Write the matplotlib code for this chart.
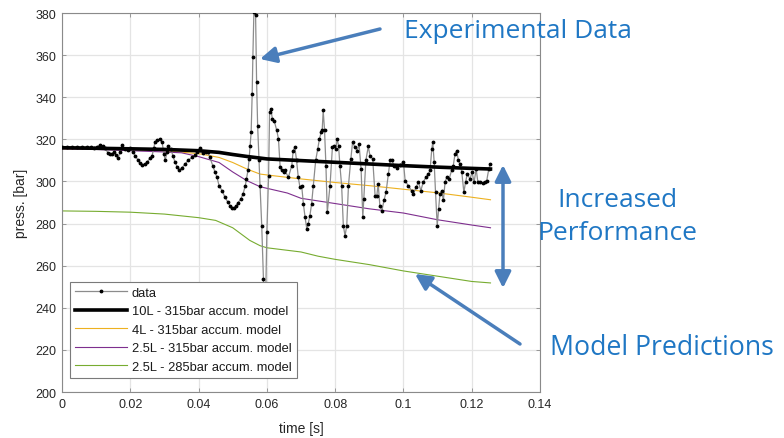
import matplotlib.pyplot as plt

# measured accumulator pressure (time in s, pressure in bar)
t_data = [0.0, 0.0015, 0.0029, 0.0044, 0.0059, 0.0073, 0.0085, 0.0094, 0.0103, 0.0111,
          0.0120, 0.0126, 0.0135, 0.0141, 0.0146, 0.0152, 0.0158, 0.0164, 0.0170, 0.0176,
          0.0185, 0.0193, 0.0199, 0.0208, 0.0214, 0.0223, 0.0228, 0.0234, 0.0243, 0.0249,
          0.0258, 0.0264, 0.0269, 0.0272, 0.0278, 0.0287, 0.0293, 0.0299, 0.0302, 0.0308,
          0.0310, 0.0319, 0.0325, 0.0331, 0.0337, 0.0343, 0.0351, 0.0360, 0.0369, 0.0381,
          0.0390, 0.0395, 0.0404, 0.0413, 0.0422, 0.0428, 0.0433, 0.0442, 0.0448, 0.0454,
          0.0460, 0.0469, 0.0477, 0.0486, 0.0492, 0.0498, 0.0504, 0.0510, 0.0515, 0.0524,
          0.0530, 0.0537, 0.0540, 0.0545, 0.0548, 0.0551, 0.0554, 0.0557, 0.0559, 0.0562,
          0.0567, 0.0570, 0.0573, 0.0577, 0.0580, 0.0585, 0.0590, 0.0593, 0.0596, 0.0600,
          0.0605, 0.0608, 0.0612, 0.0616, 0.0622, 0.0629, 0.0634, 0.0639, 0.0643, 0.0650,
          0.0653, 0.0663, 0.0673, 0.0677, 0.0682, 0.0687, 0.0692, 0.0697, 0.0702, 0.0707,
          0.0712, 0.0717, 0.0721, 0.0726, 0.0731, 0.0736, 0.0743, 0.0749, 0.0754, 0.0759,
          0.0762, 0.0765, 0.0769, 0.0773, 0.0777, 0.0785, 0.0792, 0.0797, 0.0802, 0.0806,
          0.0810, 0.0814, 0.0819, 0.0824, 0.0829, 0.0834, 0.0839, 0.0846, 0.0851, 0.0858,
          0.0865, 0.0870, 0.0876, 0.0881, 0.0884, 0.0890, 0.0897, 0.0902, 0.0910, 0.0917,
          0.0922, 0.0926, 0.0931, 0.0937, 0.0943, 0.0949, 0.0956, 0.0961, 0.0967, 0.0972,
          0.0980, 0.0990, 0.1000, 0.1005, 0.1014, 0.1024, 0.1029, 0.1037, 0.1044, 0.1051,
          0.1058, 0.1066, 0.1073, 0.1078, 0.1083, 0.1086, 0.1090, 0.1094, 0.1099, 0.1103,
          0.1107, 0.1112, 0.1117, 0.1122, 0.1127, 0.1134, 0.1141, 0.1146, 0.1151, 0.1156,
          0.1161, 0.1166, 0.1171, 0.1177, 0.1182, 0.1187, 0.1195, 0.1201, 0.1207, 0.1213,
          0.1218, 0.1224, 0.1232, 0.1239, 0.1244, 0.1250, 0.1254]
p_data = [316.5, 316.5, 316.3, 316.5, 316.4, 316.5, 316.2, 315.7, 316.5, 317.3,
          316.8, 315.9, 313.5, 312.8, 313.0, 314.0, 312.5, 311.1, 314.0, 317.4,
          315.4, 315.0, 315.9, 314.0, 312.3, 310.0, 308.8, 308.0, 308.3, 309.2,
          311.0, 312.3, 316.0, 318.6, 319.5, 320.2, 318.6, 313.0, 310.0, 314.0,
          317.0, 315.4, 312.0, 309.2, 307.0, 305.6, 306.5, 308.1, 310.0, 311.4,
          312.5, 313.8, 315.9, 313.5, 314.0, 313.8, 311.5, 307.5, 304.5, 302.0,
          298.0, 295.6, 292.6, 290.2, 288.5, 287.4, 287.4, 288.5, 289.8, 291.7,
          294.0, 298.0, 301.0, 305.5, 310.7, 317.0, 323.5, 341.5, 359.0, 380.3,
          378.9, 347.0, 326.5, 310.0, 298.0, 279.0, 253.7, 235.0, 240.0, 276.0,
          302.7, 332.8, 334.4, 329.7, 328.5, 324.2, 320.2, 306.7, 305.5, 304.3,
          305.2, 302.0, 307.5, 314.6, 316.2, 310.0, 302.0, 297.2, 298.0, 289.3,
          282.9, 277.4, 279.8, 283.7, 289.3, 298.0, 310.0, 315.4, 320.2, 323.3,
          324.2, 333.7, 324.2, 307.5, 285.3, 298.0, 316.2, 317.0, 315.4, 320.2,
          317.0, 307.5, 298.0, 279.0, 274.2, 279.0, 298.0, 310.7, 318.6, 316.2,
          314.6, 317.8, 305.9, 282.9, 291.7, 310.0, 316.6, 312.3, 310.7, 293.2,
          293.2, 298.8, 288.5, 286.1, 291.0, 294.8, 303.5, 310.0, 310.0, 307.5,
          306.3, 308.0, 309.2, 300.4, 298.0, 295.6, 294.0, 297.2, 299.7, 295.6,
          299.7, 302.0, 303.5, 305.2, 315.4, 318.6, 309.2, 294.8, 279.0, 286.9,
          294.0, 295.6, 291.0, 299.7, 302.0, 301.2, 305.2, 307.5, 313.0, 314.6,
          310.0, 308.3, 304.3, 294.8, 299.7, 303.5, 301.2, 304.3, 299.7, 305.9,
          299.7, 299.7, 299.4, 299.7, 300.4, 305.9, 308.3]

# accumulator model predictions
t_10L = [0.0, 0.02, 0.03, 0.04, 0.046, 0.05, 0.054, 0.06, 0.07, 0.08, 0.09, 0.1, 0.11, 0.12, 0.1255]
p_10L = [316.0, 315.5, 315.2, 314.6, 313.8, 312.8, 311.9, 310.7, 309.9, 309.1, 308.3, 307.5, 306.8, 306.2, 305.9]

t_4L = [0.0, 0.02, 0.03, 0.04, 0.046, 0.05, 0.054, 0.058, 0.062, 0.07, 0.08, 0.09, 0.1, 0.11, 0.12, 0.1255]
p_4L = [315.5, 315.2, 314.6, 313.2, 311.4, 309.0, 306.0, 303.5, 302.7, 301.2, 299.5, 298.0, 296.3, 294.6, 292.5, 291.3]

t_25L = [0.0, 0.01, 0.02, 0.03, 0.035, 0.04, 0.046, 0.05, 0.054, 0.058, 0.062, 0.066, 0.07,
         0.08, 0.09, 0.1, 0.11, 0.12, 0.1255]
p_25L = [315.5, 315.2, 314.6, 314.0, 313.6, 311.8, 309.0, 304.5, 300.5, 297.5, 296.0, 294.5, 292.0,
         289.5, 287.0, 285.0, 281.8, 279.3, 278.0]

t_25L_285 = [0.0, 0.01, 0.02, 0.03, 0.04, 0.045, 0.05, 0.055, 0.058, 0.06, 0.065, 0.07,
             0.075, 0.08, 0.09, 0.1, 0.11, 0.12, 0.1255]
p_25L_285 = [286.0, 285.8, 285.4, 284.5, 282.8, 281.5, 278.0, 272.0, 269.5, 268.5, 267.5, 266.5,
             264.5, 263.0, 260.5, 257.5, 255.0, 252.5, 251.8]

x_ticks = [0, 0.02, 0.04, 0.06, 0.08, 0.1, 0.12, 0.14]
x_ticklabels = ['0', '0.02', '0.04', '0.06', '0.08', '0.1', '0.12', '0.14']
y_ticks = [200, 220, 240, 260, 280, 300, 320, 340, 360, 380]

plt.rcParams['font.family'] = ['Liberation Sans', 'DejaVu Sans']

fig = plt.figure(figsize=(7.84, 4.39), dpi=100)
ax = fig.add_axes([62 / 784, 1 - 393 / 439, 478 / 784, 379 / 439])

ax.plot(t_data, p_data, color='#8c8c8c', lw=0.9, marker='.', ms=3.5,
        mfc='black', mec='black', label='data', zorder=3)
ax.plot(t_10L, p_10L, color='black', lw=2.6, label='10L - 315bar accum. model', zorder=4)
ax.plot(t_4L, p_4L, color='#EDB120', lw=0.8, label='4L - 315bar accum. model', zorder=2)
ax.plot(t_25L, p_25L, color='#7E2F8E', lw=0.8, label='2.5L - 315bar accum. model', zorder=2)
ax.plot(t_25L_285, p_25L_285, color='#77AC30', lw=0.8, label='2.5L - 285bar accum. model', zorder=2)

ax.set_xlim(0, 0.14)
ax.set_ylim(200, 380)
ax.set_xticks(x_ticks)
ax.set_xticklabels(x_ticklabels)
ax.set_yticks(y_ticks)
ax.grid(True, color='#e4e4e4', lw=0.9)
ax.set_axisbelow(True)
for s in ax.spines.values():
    s.set_color('#8a8a8a')
    s.set_linewidth(0.8)
ax.tick_params(direction='in', length=3, width=0.6, color='#8a8a8a',
               labelsize=9, labelcolor='#262626', top=True, right=True, pad=4)
ax.set_xlabel('time [s]', fontsize=10, color='#262626', labelpad=8)
ax.set_ylabel('press. [bar]', fontsize=10, color='#262626', labelpad=5)

leg = ax.legend(loc='lower left', bbox_to_anchor=(0.003, 0.02), fontsize=9.3,
                frameon=True, fancybox=False, edgecolor='#7a7a7a', handlelength=4.0,
                handletextpad=0.4, labelspacing=0.5, borderpad=0.4, framealpha=1)
leg.get_frame().set_linewidth(0.8)
for txt in leg.get_texts():
    txt.set_color('#1a1a1a')

# callouts around the plot
blue_txt = '#1F77C4'
blue_arr = '#4A7EBB'
fig.text(518 / 784, 1 - 31 / 439, 'Experimental Data', color=blue_txt, fontsize=19,
         family='Open Sans', ha='center', va='center')
fig.text(617 / 784, 1 - 217 / 439, 'Increased\nPerformance', color=blue_txt, fontsize=19,
         family='Open Sans', ha='center', va='center', linespacing=1.45)
fig.text(662 / 784, 1 - 348 / 439, 'Model Predictions', color=blue_txt, fontsize=19.2,
         family='Open Sans', ha='center', va='center')

arrow = dict(arrowstyle='-|>', color=blue_arr, lw=2.5, mutation_scale=24, shrinkA=0, shrinkB=0)
ax.annotate('', xy=(260, 439 - 60), xytext=(380, 439 - 30),
            xycoords='figure pixels', textcoords='figure pixels', arrowprops=arrow)
ax.annotate('', xy=(415, 439 - 275), xytext=(520, 439 - 345),
            xycoords='figure pixels', textcoords='figure pixels', arrowprops=arrow)
ax.annotate('', xy=(503, 439 - 166), xytext=(503, 439 - 289),
            xycoords='figure pixels', textcoords='figure pixels',
            arrowprops=dict(arrowstyle='<|-|>', color=blue_arr, lw=2.5, mutation_scale=24,
                            shrinkA=0, shrinkB=0))

fig.savefig('out.png', dpi=100)
